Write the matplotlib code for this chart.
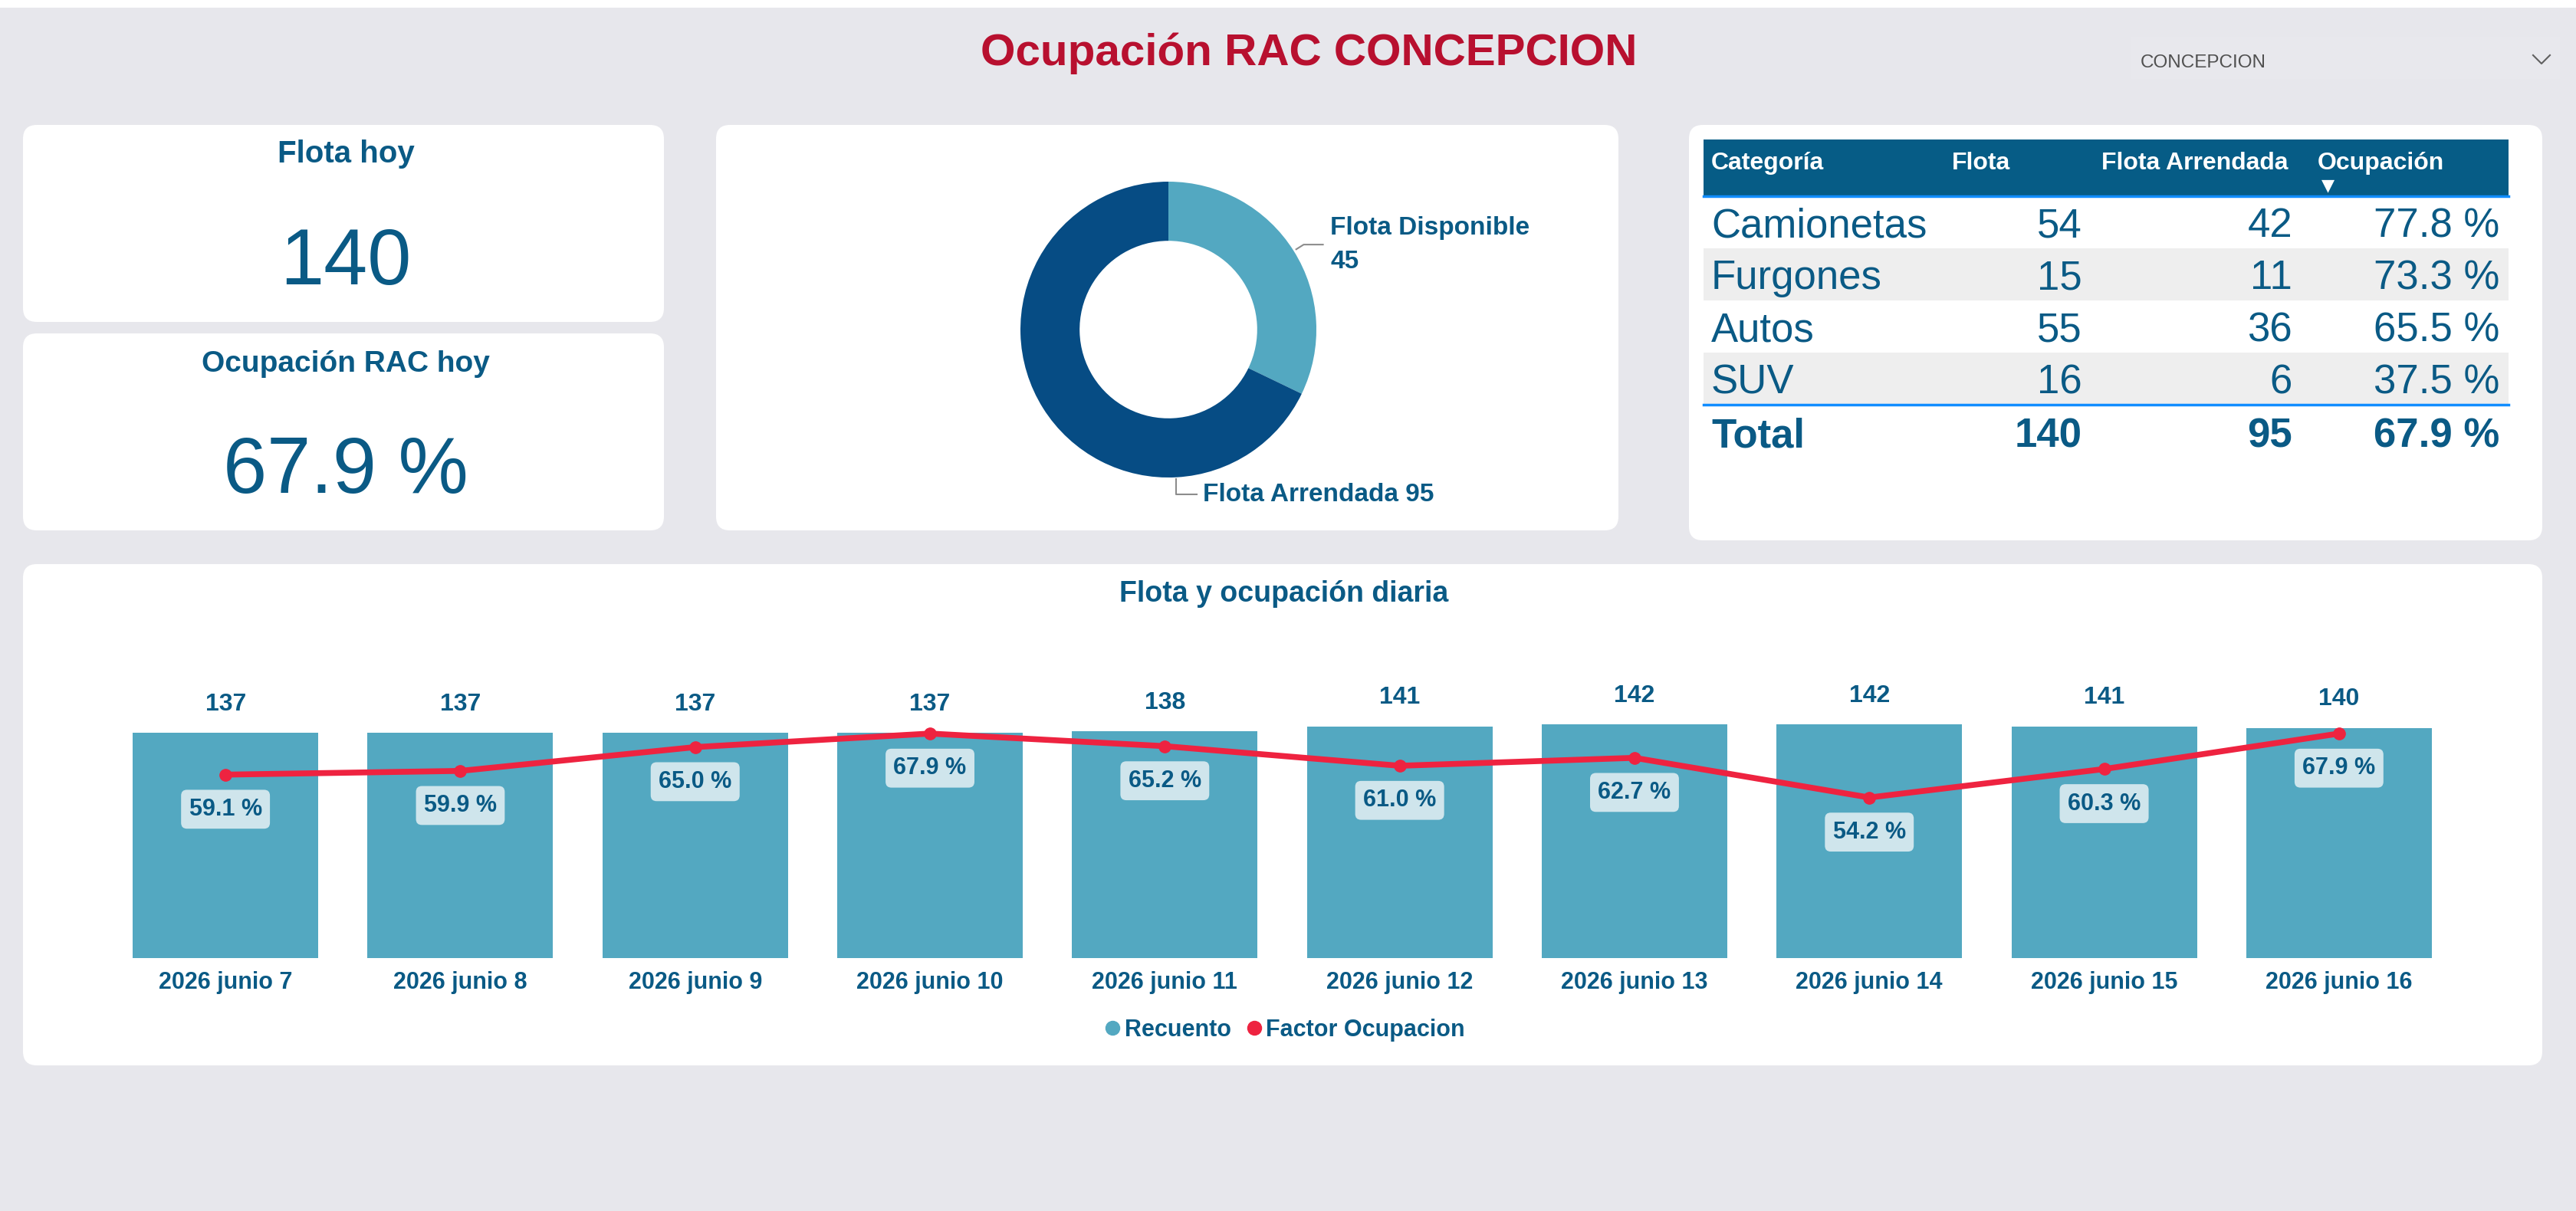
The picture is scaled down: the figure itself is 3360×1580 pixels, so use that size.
import matplotlib
matplotlib.use("Agg")
import matplotlib.pyplot as plt
from matplotlib import font_manager
from matplotlib.patches import FancyBboxPatch, Rectangle
from matplotlib.lines import Line2D
import numpy as np

plt.rcParams['font.family'] = ['Liberation Sans', 'DejaVu Sans']
names = {f.name for f in font_manager.fontManager.ttflist}
NARROW = 'Liberation Sans Narrow' if 'Liberation Sans Narrow' in names else 'Liberation Sans'
TITLE_SIZE = 52 if NARROW == 'Liberation Sans Narrow' else 42

# ---- data ----
flota_hoy = 140
ocupacion_hoy = 67.9

donut_labels = ["Flota Disponible", "Flota Arrendada"]
donut_values = [45, 95]

tabla_cols = ["Categoría", "Flota", "Flota Arrendada", "Ocupación"]
categorias = ["Camionetas", "Furgones", "Autos", "SUV"]
flota = [54, 15, 55, 16]
arrendada = [42, 11, 36, 6]
ocupacion = [77.8, 73.3, 65.5, 37.5]
total = ["Total", 140, 95, 67.9]

fechas = ["2026 junio 7", "2026 junio 8", "2026 junio 9", "2026 junio 10", "2026 junio 11",
          "2026 junio 12", "2026 junio 13", "2026 junio 14", "2026 junio 15", "2026 junio 16"]
recuento = [137, 137, 137, 137, 138, 141, 142, 142, 141, 140]
factor = [59.1, 59.9, 65.0, 67.9, 65.2, 61.0, 62.7, 54.2, 60.3, 67.9]

# ---- colours ----
BG = '#E7E7EC'
BLUE = '#0A5A85'
HEAD = '#065C86'
LINE_BLUE = '#118DFF'
BAR = '#53A8C1'
DARK = '#064C84'
RED = '#EE2340'
TITLE_RED = '#B8102F'
BOX = '#CFE5EC'

W, H = 3360, 1580
fig = plt.figure(figsize=(W / 100, H / 100), dpi=100, facecolor=BG)
bg = fig.add_axes([0, 0, 1, 1])
bg.set_xlim(0, W)
bg.set_ylim(H, 0)
bg.axis('off')


def frac(x0, y0, x1, y1):
    return [x0 / W, 1 - y1 / H, (x1 - x0) / W, (y1 - y0) / H]


def card(x0, y0, x1, y1):
    bg.add_patch(FancyBboxPatch((x0, y0), x1 - x0, y1 - y0,
                                boxstyle="round,pad=0,rounding_size=18",
                                fc='white', ec='none'))


bg.add_patch(Rectangle((0, 0), W, 10, fc='white', ec='none'))

# title + slicer
bg.text(1707, 85, "Ocupación RAC CONCEPCION", ha='center', va='baseline',
        fontsize=TITLE_SIZE, fontweight='bold', color=TITLE_RED, family=NARROW)
bg.add_patch(Rectangle((2779, 48), 560, 55, fc='#E8E8ED', ec='none'))
bg.text(2792, 88, "CONCEPCION", ha='left', va='baseline', fontsize=17.5, color='#505050')
bg.plot([3304, 3315, 3326], [72, 83, 72], color='#606060', lw=1.5)

# cards
card(30, 163, 866, 420)
card(30, 435, 866, 692)
card(934, 163, 2111, 692)
card(2203, 163, 3316, 705)
card(30, 736, 3316, 1390)

# KPI cards
bg.text(451, 212, "Flota hoy", ha='center', va='baseline', fontsize=29,
        fontweight='bold', color=BLUE)
bg.text(451, 371, f"{flota_hoy}", ha='center', va='baseline', fontsize=74, color=BLUE)
bg.text(451, 485, "Ocupación RAC hoy", ha='center', va='baseline', fontsize=28,
        fontweight='bold', color=BLUE)
bg.text(451, 643, f"{ocupacion_hoy:.1f} %", ha='center', va='baseline', fontsize=74, color=BLUE)

# donut
cx, cy, R = 1524, 430, 193
axd = fig.add_axes(frac(cx - 200, cy - 200, cx + 200, cy + 200))
axd.pie(donut_values, colors=[BAR, DARK], startangle=90, counterclock=False,
        wedgeprops=dict(width=0.40, edgecolor='none'))
lim = 200 / R
axd.set_xlim(-lim, lim)
axd.set_ylim(-lim, lim)
axd.axis('off')

mid = np.deg2rad(90 - 360 * donut_values[0] / sum(donut_values) / 2)
p0 = (1.02 * np.cos(mid), 1.02 * np.sin(mid))
p1 = (1.08 * np.cos(mid), 1.08 * np.sin(mid))
p2 = (p1[0] + 0.13, p1[1])
axd.plot([p0[0], p1[0], p2[0]], [p0[1], p1[1], p2[1]], color='#8C8C8C', lw=1.5, clip_on=False)
axd.text(p2[0] + 0.05, p2[1], f"{donut_labels[0]}\n{donut_values[0]}", ha='left', va='center',
         fontsize=24, fontweight='bold', color=BLUE, linespacing=1.55, clip_on=False)

a = np.deg2rad(-87)
q0 = (1.01 * np.cos(a), 1.01 * np.sin(a))
q1 = (q0[0], -1.115)
q2 = (q0[0] + 0.14, -1.115)
axd.plot([q0[0], q1[0], q2[0]], [q0[1], q1[1], q2[1]], color='#8C8C8C', lw=1.5, clip_on=False)
axd.text(q2[0] + 0.04, q2[1], f"{donut_labels[1]} {donut_values[1]}", ha='left', va='center',
         fontsize=24, fontweight='bold', color=BLUE, clip_on=False)

# table
tx0, tx1 = 2222, 3272
bg.add_patch(Rectangle((tx0, 182), tx1 - tx0, 73, fc=HEAD, ec='none'))
bg.plot([tx0, tx1], [256, 256], color=LINE_BLUE, lw=2.5)
head_x = [2232, 2546, 2741, 3023]
for hx, name in zip(head_x, tabla_cols):
    bg.text(hx, 221, name, ha='left', va='baseline', fontsize=23, fontweight='bold', color='white')
bg.text(3036, 242, "▼", ha='center', va='center', fontsize=16, color='white', family='DejaVu Sans')

col_r = [2716, 2990, 3260]
row_h = 68
for i, cat in enumerate(categorias):
    top = 256 + i * row_h
    if i % 2 == 1:
        bg.add_patch(Rectangle((tx0, top), tx1 - tx0, row_h, fc='#EEEEEE', ec='none'))
    base = top + 53
    bg.text(2232, base, cat, ha='left', va='baseline', fontsize=38, color=BLUE)
    bg.text(col_r[0], base, f"{flota[i]}", ha='right', va='baseline', fontsize=38, color=BLUE)
    bg.text(col_r[1], base, f"{arrendada[i]}", ha='right', va='baseline', fontsize=38, color=BLUE)
    bg.text(col_r[2], base, f"{ocupacion[i]:.1f} %", ha='right', va='baseline', fontsize=38, color=BLUE)
ytot = 256 + len(categorias) * row_h
bg.plot([tx0, tx1], [ytot, ytot], color=LINE_BLUE, lw=2.5)
tb = ytot + 56
bg.text(2232, tb, total[0], ha='left', va='baseline', fontsize=38, fontweight='bold', color=BLUE)
bg.text(col_r[0], tb, f"{total[1]}", ha='right', va='baseline', fontsize=38, fontweight='bold', color=BLUE)
bg.text(col_r[1], tb, f"{total[2]}", ha='right', va='baseline', fontsize=38, fontweight='bold', color=BLUE)
bg.text(col_r[2], tb, f"{total[3]:.1f} %", ha='right', va='baseline', fontsize=38, fontweight='bold', color=BLUE)

# daily chart
bg.text(1675, 785, "Flota y ocupación diaria", ha='center', va='baseline', fontsize=27,
        fontweight='bold', color=BLUE)

ax = fig.add_axes(frac(141, 870, 3204, 1250))
x = np.arange(len(fechas))
bars = ax.bar(x, recuento, width=0.79, color=BAR, zorder=2)
ax.set_xlim(-0.5, len(fechas) - 0.5)
ax.set_ylim(0, 380 / 2.145)
ax.bar_label(bars, padding=16, fontsize=23, fontweight='bold', color=BLUE)
ax.set_xticks(x)
ax.set_xticklabels(fechas, fontsize=22, fontweight='bold', color=BLUE)
ax.tick_params(axis='x', length=0, pad=12)
ax.set_yticks([])
for s in ax.spines.values():
    s.set_visible(False)
ax.patch.set_alpha(0)

ax2 = ax.twinx()
ax2.set_ylim(19.8, 82.2)
ax2.plot(x, factor, color=RED, lw=5.5, marker='o', ms=11, zorder=3)
for xi, v in zip(x, factor):
    ax2.annotate(f"{v:.1f} %", (xi, v), xytext=(0, -32.5), textcoords='offset points',
                 ha='center', va='center', fontsize=22, fontweight='bold', color=BLUE,
                 bbox=dict(boxstyle='round,pad=0.34,rounding_size=0.25', fc=BOX, ec='none'))
ax2.set_yticks([])
for s in ax2.spines.values():
    s.set_visible(False)

handles = [Line2D([], [], marker='o', ls='', color=BAR, ms=13),
           Line2D([], [], marker='o', ls='', color=RED, ms=13)]
fig.legend(handles, ["Recuento", "Factor Ocupacion"], loc='center',
           bbox_to_anchor=(1675 / W, 1 - 1344 / H), ncol=2, frameon=False,
           prop={'weight': 'bold', 'size': 22}, labelcolor=BLUE,
           handletextpad=0.1, columnspacing=0.6, handlelength=0.8)

fig.savefig("out.png", dpi=100, facecolor=BG)
